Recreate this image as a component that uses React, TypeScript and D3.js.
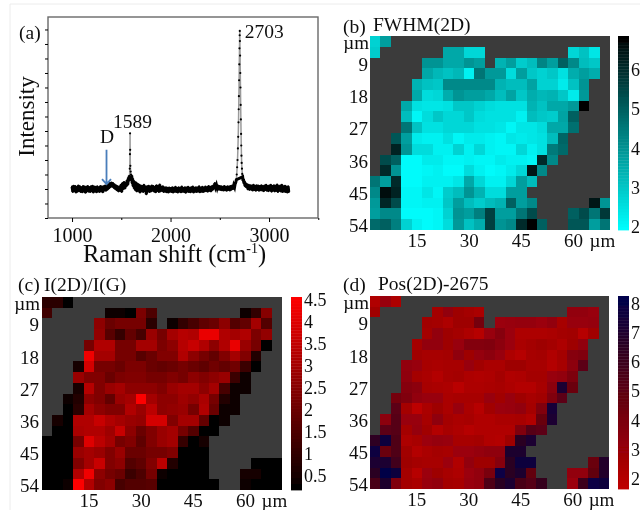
import React, { useEffect, useRef } from 'react';
import * as d3 from 'd3';

const _ = null;

// spectrum, panel (a): baseline is 0, one y unit is one labelled tick step
const ramanShift = [
  1000,1008,1016,1024,1032,1040,1048,1056,1064,1072,1080,1088,1096,1104,1112,1120,1128,1136,1144,1152,
  1160,1168,1176,1184,1192,1200,1208,1216,1224,1232,1240,1248,1256,1264,1272,1280,1288,1296,1304,1312,
  1320,1328,1336,1344,1352,1360,1368,1376,1384,1392,1400,1408,1416,1424,1432,1440,1448,1456,1464,1472,
  1480,1488,1496,1504,1512,1520,1528,1536,1544,1552,1560,1566,1572,1577,1581,1584,1586,1588,1589,1590,
  1592,1595,1598,1602,1606,1610,1615,1620,1626,1632,1638,1644,1650,1658,1666,1674,1682,1690,1698,1706,
  1714,1722,1730,1738,1746,1754,1762,1770,1778,1786,1794,1802,1810,1818,1826,1834,1842,1850,1858,1866,
  1874,1882,1890,1898,1906,1914,1922,1930,1938,1946,1954,1962,1970,1978,1986,1994,2002,2010,2018,2026,
  2034,2042,2050,2058,2066,2074,2082,2090,2098,2106,2114,2122,2130,2138,2146,2154,2162,2170,2178,2186,
  2194,2202,2210,2218,2226,2234,2242,2250,2258,2266,2274,2282,2290,2298,2306,2314,2322,2330,2338,2346,
  2354,2362,2370,2378,2386,2394,2402,2410,2418,2426,2434,2442,2450,2458,2466,2474,2482,2490,2498,2506,
  2514,2522,2530,2538,2546,2554,2562,2570,2578,2586,2594,2602,2610,2618,2626,2634,2642,2650,2656,2662,
  2668,2672,2676,2680,2684,2687,2690,2692,2694,2696,2698,2700,2702,2703,2704,2706,2708,2710,2712,2714,
  2716,2718,2720,2722,2725,2728,2732,2736,2740,2745,2750,2756,2762,2770,2778,2786,2794,2802,2810,2818,
  2826,2834,2842,2850,2858,2866,2874,2882,2890,2898,2906,2914,2922,2930,2938,2946,2954,2962,2970,2978,
  2986,2994,3002,3010,3018,3026,3034,3042,3050,3058,3066,3074,3082,3090,3098,3106,3114,3122,3130,3138,
  3146,3154,3162,3170,3178,3186,3194,3200,
];
const intensity = [
  .08,-.1,.11,-.06,.1,-.12,.06,-.09,.12,-.07,.09,-.1,.05,-.11,.1,-.06,.08,-.13,.07,-.08,
  .1,-.09,.06,-.1,.09,-.07,.11,-.12,.08,-.06,.07,-.11,.09,-.08,.05,-.1,.1,-.07,.08,-.11,
  .09,-.05,.12,-.06,.13,-.02,.15,.03,.2,.07,.22,.1,.2,.04,.15,.0,.12,-.04,.09,-.08,
  .07,-.06,.14,-.1,.2,.0,.24,.02,.18,.1,.3,.15,.38,.28,.45,.42,.7,1.2,1.92,1.35,
  .8,.6,.5,.34,.46,.2,.36,.1,.28,.02,.24,-.04,.22,-.08,.18,-.06,.14,-.12,.12,-.07,
  .1,-.1,.14,-.06,.08,-.18,.09,-.08,.11,-.1,.05,-.08,.12,-.05,.1,-.09,.06,-.11,.13,-.05,
  .08,-.1,.15,-.08,.07,-.06,.09,-.1,.05,-.09,.06,-.11,.04,-.12,.05,-.09,.03,-.1,.06,-.12,
  .04,-.09,.07,-.1,.03,-.12,.06,-.08,.04,-.11,.08,-.09,.03,-.1,.06,-.13,.05,-.08,.07,-.1,
  .04,-.11,.06,-.08,.08,-.12,.04,-.09,.06,-.1,.05,-.08,.09,-.11,.03,-.09,.07,-.1,.05,-.08,
  .08,-.07,.06,-.09,.1,-.06,.07,-.08,.09,-.03,.12,.02,.2,.06,.14,.03,.12,-.02,.1,-.03,
  .09,-.04,.07,-.05,.1,-.04,.06,-.06,.09,-.03,.08,-.05,.1,-.02,.12,.0,.13,.06,.18,.22,
  .32,.5,.75,1.0,1.4,1.8,2.3,2.75,3.2,3.75,4.3,4.85,5.3,5.45,5.1,4.6,4.0,3.5,2.9,2.4,
  1.9,1.5,1.15,.9,.7,.52,.42,.28,.34,.2,.26,.1,.2,.06,.16,-.01,.14,-.03,.13,-.02,
  .12,-.05,.14,-.03,.11,-.06,.13,-.02,.12,-.06,.1,-.04,.13,-.05,.09,-.07,.12,-.03,.14,-.06,
  .1,-.07,.12,-.04,.14,-.09,.1,-.05,.13,-.08,.11,-.06,.15,-.1,.09,-.05,.12,-.09,.14,-.1,
  .08,-.09,.11,-.1,.07,-.12,.09,-.1,
];
const spectrumXTicks = [1000, 2000, 3000];
const spectrumXMinor = [1500, 2500, 3500];
const spectrumYTicks = [-1, -0.5, 0, 0.5, 1, 1.5, 2, 2.5, 3, 3.5, 4, 4.5, 5, 5.5];

// maps are 23 columns by 18 rows, one cell every 3 um, null is no data
const fwhmRows = [
  [2.8,3.8],
  [2.9,_,_,_,_,_,_,3.6,3.6,2.7,2.7,_,_,_,_,_,_,_,_,2.7,3.1,2.4],
  [_,_,_,_,_,4.0,4.0,3.6,3.6,4.0,3.8,_,3.4,3.8,2.9,3.2,4.3,3.8,5.0,4.2,3.2,3.0],
  [_,_,_,_,_,3.6,3.3,3.1,3.3,2.2,4.6,3.9,3.9,2.6,3.8,3.0,2.8,3.0,2.5,3.5,3.8,3.5],
  [_,_,_,_,3.4,3.1,3.0,4.2,4.2,4.2,4.2,4.2,3.4,3.2,3.2,3.7,2.8,2.8,2.3,3.1,4.0],
  [_,_,_,_,3.6,2.6,2.7,3.5,4.0,3.8,3.8,3.6,3.2,3.7,3.0,3.5,3.3,3.4,3.0,2.3,3.9],
  [_,_,_,3.6,2.5,2.4,2.4,2.5,3.0,3.0,2.8,2.6,2.5,2.5,2.5,3.4,3.1,3.6,3.6,3.9,6.8],
  [_,_,_,3.2,2.1,2.6,3.0,2.7,2.7,3.0,2.6,2.5,2.5,2.5,2.2,3.2,3.0,2.9,3.7,5.0],
  [_,_,_,4.6,3.1,2.5,2.5,2.7,2.7,2.7,2.5,2.5,2.4,2.1,2.4,2.4,2.6,3.6,3.6,4.7],
  [_,_,5.2,3.8,2.3,2.2,2.2,2.5,2.1,2.3,2.3,2.2,2.1,2.4,2.3,2.4,2.5,3.2,4.9],
  [_,_,6.2,4.0,2.6,2.6,2.2,2.2,2.8,2.2,2.7,2.2,2.1,2.1,2.7,2.2,2.5,4.5,4.8],
  [_,5.4,5.0,2.0,2.0,2.3,2.3,2.1,2.1,2.2,2.1,2.1,2.3,2.2,2.2,2.1,6.0,4.2],
  [_,6.0,4.0,2.0,2.0,2.1,2.2,2.0,2.0,2.6,2.2,2.0,2.1,2.3,2.7,6.4,4.2],
  [4.6,3.8,6.0,2.0,2.0,2.2,2.2,2.2,2.4,3.6,2.7,2.2,2.2,2.7,3.8,3.2],
  [4.2,6.6,6.2,2.1,2.1,2.4,2.1,2.9,3.2,4.0,3.4,2.6,2.6,3.8,3.8],
  [3.9,6.1,5.4,2.1,2.1,2.2,2.2,3.0,3.8,3.2,2.9,3.2,3.4,5.0,3.8,4.2,_,_,_,_,_,6.4,4.0],
  [3.8,4.2,4.2,2.0,2.0,2.0,2.1,2.8,4.0,3.8,4.4,5.6,3.8,3.8,4.6,5.4,_,_,_,5.0,5.4,4.6,5.8],
  [4.8,5.0,4.4,2.8,2.2,2.0,2.1,2.6,3.9,3.1,3.5,5.6,4.0,4.2,6.0,6.9,5.0,_,_,5.2,5.2,3.8,4.6],
];
const ratioRows = [
  [.9,.9,.2],
  [1.3,_,_,_,_,_,.3,.4,.2,2.3,1.5,_,_,_,_,_,_,_,_,.3,1.0,2.5],
  [_,_,_,_,_,2.6,2.0,2.2,2.2,2.2,.9,_,.3,1.0,1.4,1.8,2.0,2.6,1.6,1.9,3.0,1.6],
  [_,_,_,_,_,2.7,1.7,1.1,1.9,1.4,2.8,2.2,3.0,3.3,3.2,4.2,4.2,3.2,3.0,3.2,2.3,2.7],
  [_,_,_,_,2.2,3.2,3.2,2.2,2.2,3.0,3.0,2.3,2.6,3.3,3.6,3.2,2.6,3.2,4.2,2.8,2.2,.2],
  [_,_,_,_,4.3,3.0,3.0,2.2,2.2,1.7,2.0,2.4,2.4,3.2,2.6,2.2,1.9,2.4,3.0,2.4,.8],
  [_,_,_,.6,3.8,2.2,2.2,2.0,2.3,2.3,2.0,1.9,2.0,2.2,2.0,1.8,2.1,1.9,2.1,1.2,.2],
  [_,_,_,2.8,2.4,2.4,2.0,2.3,2.4,2.4,2.2,2.2,2.4,2.2,2.6,2.4,2.6,2.8,1.2,.3],
  [_,_,_,.5,3.3,2.4,2.8,3.0,2.6,2.6,2.6,2.4,2.8,3.0,3.0,2.6,3.0,1.4,.3,.3],
  [_,_,.3,.8,2.6,2.4,1.9,2.8,3.0,4.5,3.0,2.6,2.6,2.9,2.7,3.1,2.2,.8,.3],
  [_,_,.2,.9,3.0,2.6,2.4,2.4,3.2,2.8,3.4,2.6,2.7,2.8,2.2,3.2,2.0,.3,.3],
  [_,.5,.2,3.2,3.2,3.6,3.2,3.0,2.8,2.7,3.8,3.8,2.4,3.0,3.0,1.9,.2,.3],
  [_,.2,.2,3.1,3.2,3.2,2.9,3.6,2.6,2.0,2.4,2.8,3.0,2.2,1.6,.2,.2],
  [.1,.1,.1,2.2,4.0,3.4,3.0,2.2,2.4,1.8,2.4,2.8,3.0,1.1,.2,.5],
  [.1,.1,.1,2.8,3.0,2.8,2.4,2.8,2.0,2.0,2.2,2.2,2.4,.2,.1,.1],
  [.1,.1,.1,2.4,3.0,3.6,2.4,2.6,1.6,1.8,2.4,3.4,.8,.1,.1,.1,_,_,_,_,.1,.1,.1],
  [.1,.1,.1,3.2,4.3,2.6,2.2,2.0,1.2,1.5,2.2,.4,.1,.1,.1,.1,_,_,_,.5,.5,.2,.1],
  [.1,.1,.4,4.5,3.2,2.4,2.6,1.4,1.6,1.6,1.7,.2,.1,.1,.1,.1,.1,_,_,.4,.2,.1,.1],
];
const posRows = [
  [2.2,3.0,2.3],
  [2.7,_,_,_,_,_,2.6,3.2,2.8,2.6,2.4,_,_,_,_,_,_,_,_,3.2,3.2,3.0],
  [_,_,_,_,_,2.7,2.6,2.3,2.8,2.8,4.2,_,2.9,3.0,3.1,3.1,2.9,3.2,2.5,3.0,3.0,3.1],
  [_,_,_,_,_,2.6,3.2,2.8,2.6,2.3,2.0,3.0,3.6,2.9,2.3,2.3,2.3,2.4,2.6,2.7,2.0,2.7],
  [_,_,_,_,2.6,3.2,3.2,2.8,3.0,3.7,3.7,3.8,3.4,2.9,2.4,2.6,2.8,2.6,2.3,2.8,3.2],
  [_,_,_,_,2.7,2.5,2.5,2.6,3.3,2.8,3.1,3.4,3.0,2.3,2.0,2.5,2.6,2.2,2.6,3.6,3.8],
  [_,_,_,3.2,3.0,2.5,2.4,2.5,2.5,3.0,2.7,2.4,2.4,2.8,2.8,2.5,2.5,2.1,2.5,3.4,5.0],
  [_,_,_,3.3,2.6,2.4,2.1,2.5,2.6,2.3,2.2,2.3,2.6,2.2,2.3,2.6,2.6,3.0,3.2,3.9],
  [_,_,_,3.6,3.4,2.5,2.4,2.3,1.9,2.3,2.3,2.4,2.5,2.3,2.1,2.1,2.5,3.4,7.2,4.5],
  [_,_,4.2,3.8,3.2,3.0,3.0,2.4,2.5,2.5,2.5,3.0,2.7,3.0,2.8,2.5,2.7,3.8,5.0],
  [_,_,5.0,2.6,1.8,2.4,2.8,2.4,3.0,2.4,2.0,2.7,2.9,3.0,3.2,2.6,3.8,7.4],
  [_,3.4,5.2,3.0,3.0,2.5,3.3,2.6,2.4,2.5,2.2,2.2,2.4,2.4,2.5,2.2,4.6,7.2],
  [_,5.0,5.2,2.6,3.1,2.7,2.1,2.5,2.3,2.0,2.2,2.2,2.2,2.2,3.8,5.2,5.0],
  [6.4,7.6,5.4,2.3,2.5,2.9,3.1,3.0,2.5,2.5,2.6,2.2,2.1,2.8,6.6,7.2],
  [7.8,4.5,5.4,2.7,2.1,2.4,2.6,2.5,2.9,2.9,3.1,3.3,3.3,7.0,7.0],
  [7.2,7.2,5.8,2.8,2.6,2.5,2.5,2.9,2.2,3.2,2.8,2.8,3.6,6.5,7.6,7.6,_,_,_,_,_,4.5,6.8],
  [6.5,8.0,7.6,2.6,2.0,2.9,2.8,2.5,2.3,2.9,3.2,4.0,7.9,6.6,7.0,4.8,_,_,_,3.2,3.2,4.8,6.8],
  [5.6,7.0,3.8,2.6,2.4,3.0,3.2,2.6,2.5,3.0,3.2,5.4,6.5,7.2,5.6,5.2,6.2,_,_,2.9,6.0,7.9,7.6],
];

const xTicks = [15, 30, 45, 60];
const yTicks = [9, 18, 27, 36, 45, 54];
const fwhmTicks = [2, 3, 4, 5, 6];
const ratioTicks = [0.5, 1, 1.5, 2, 2.5, 3, 3.5, 4, 4.5];
const posTicks = [2, 3, 4, 5, 6, 7, 8];

const serif = '"Liberation Serif", serif';
const noData = '#3b3b3b';

function drawSpectrum(svg: any) {
  const margin = { left: 48, top: 17, right: 318, bottom: 218 };
  const x = d3.scaleLinear().domain([756, 3497]).range([margin.left, margin.right]);
  const y = d3.scaleLinear().domain([-1, 5.93]).range([margin.bottom, margin.top]);
  const g = svg.append('g');

  g.append('rect')
    .attr('x', margin.left).attr('y', margin.top)
    .attr('width', margin.right - margin.left).attr('height', margin.bottom - margin.top)
    .attr('fill', 'none').attr('stroke', '#6a6a6a').attr('stroke-width', 1.4);

  // x axis, labels and long ticks
  const xAxis = g.append('g').attr('transform', `translate(0,${margin.bottom})`)
    .call(d3.axisBottom(x).tickValues(spectrumXTicks).tickSize(4).tickPadding(6).tickFormat(d3.format('d') as any));
  xAxis.selectAll('text').attr('font-size', 20).attr('font-family', serif).attr('fill', '#111');
  xAxis.select('.domain').remove();
  const xMinor = g.append('g').attr('transform', `translate(0,${margin.bottom})`)
    .call(d3.axisBottom(x).tickValues(spectrumXMinor).tickSize(2).tickFormat(() => ''));
  xMinor.select('.domain').remove();

  const yAxis = g.append('g').attr('transform', `translate(${margin.left},0)`)
    .call(d3.axisLeft(y).tickValues(spectrumYTicks).tickSize(3).tickFormat(() => ''));
  yAxis.select('.domain').remove();

  const pts = ramanShift.map((r, i) => [r, intensity[i]]);
  g.append('path')
    .attr('d', d3.line().x(d => x(d[0])).y(d => y(d[1]))(pts as any))
    .attr('fill', 'none').attr('stroke', '#9a9a9a').attr('stroke-width', 1.5);
  g.append('path')
    .attr('d', d3.line().x(d => x(d[0])).y(d => y(d[1]))(pts.filter(d => Math.abs(d[1]) < 0.5) as any))
    .attr('fill', 'none').attr('stroke', '#000').attr('stroke-width', 3);
  g.append('g').selectAll('circle').data(pts).join('circle')
    .attr('cx', (d: any) => x(d[0])).attr('cy', (d: any) => y(d[1]))
    .attr('r', 1.1).attr('fill', '#000');

  const label = (tx: number, ty: number, s: string, size = 19.5) =>
    g.append('text').attr('x', tx).attr('y', ty).attr('font-size', size)
      .attr('font-family', serif).attr('fill', '#111').text(s);

  label(19, 39, '(a)');
  label(x(2703) + 5, 38, '2703');
  label(x(1589) - 17, 128, '1589');
  label(100, 143, 'D');

  g.append('text')
    .attr('transform', `translate(34,${(margin.top + margin.bottom) / 2 - 1}) rotate(-90)`)
    .attr('text-anchor', 'middle').attr('font-size', 23).attr('font-family', serif).attr('fill', '#111')
    .text('Intensity');

  const xl = g.append('text').attr('x', 83).attr('y', 262)
    .attr('font-size', 24.5).attr('font-family', serif).attr('fill', '#111');
  xl.append('tspan').text('Raman shift (cm');
  xl.append('tspan').attr('font-size', 14).attr('dy', -9).text('-1');
  xl.append('tspan').attr('dy', 9).text(')');

  // arrow at the D band
  const ax = x(1350);
  g.append('path')
    .attr('d', `M${ax},${y(1.35)}V${y(0.17)}M${ax - 4.5},${y(0.34)}L${ax},${y(0.17)}L${ax + 4.5},${y(0.34)}`)
    .attr('fill', 'none').attr('stroke', '#4a7ebb').attr('stroke-width', 1.8);
}

function drawMap(svg: any, o: any) {
  const cols = d3.range(3, 72, 3);
  const rows = d3.range(3, 57, 3);
  const x = d3.scaleBand<number>().domain(cols).range([o.left, o.left + o.width]);
  const y = d3.scaleBand<number>().domain(rows).range([o.top, o.top + o.height]);
  const g = svg.append('g');

  g.append('rect')
    .attr('x', o.left).attr('y', o.top).attr('width', o.width).attr('height', o.height)
    .attr('fill', noData);

  o.rows.forEach((row: any[], r: number) => {
    g.append('g').attr('shape-rendering', 'crispEdges')
      .selectAll('rect').data(row.map((v, c) => ({ v, c })).filter(d => d.v !== null)).join('rect')
      .attr('x', (d: any) => x(cols[d.c]))
      .attr('y', y(rows[r]))
      .attr('width', x.bandwidth())
      .attr('height', y.bandwidth())
      .attr('fill', (d: any) => o.color(d.v));
  });

  const bottom = g.append('g').attr('transform', `translate(0,${o.top + o.height})`)
    .call(d3.axisBottom(x).tickValues(xTicks).tickSize(0).tickPadding(3));
  bottom.select('.domain').remove();
  bottom.selectAll('text').attr('font-size', 19).attr('font-family', serif).attr('fill', '#111');

  const left = g.append('g').attr('transform', `translate(${o.left},0)`)
    .call(d3.axisLeft(y).tickValues(yTicks).tickSize(0).tickPadding(o.yPad));
  left.select('.domain').remove();
  left.selectAll('text').attr('font-size', 19).attr('font-family', serif).attr('fill', '#111').attr('dy', '0.4em');

  const text = (tx: number, ty: number, s: string, size: number, anchor = 'start') =>
    g.append('text').attr('x', tx).attr('y', ty).attr('font-size', size).attr('text-anchor', anchor)
      .attr('font-family', serif).attr('fill', '#111').text(s);

  text(o.left - o.yPad + 1, o.top + 13, '\u00b5m', 19, 'end');
  text(x(60)! + x.bandwidth() / 2 + 16, o.top + o.height + 16.5, '\u00b5m', 19);
  text(o.panelX, o.top - o.panelY, o.panel, 19.5);
  text(o.titleX, o.top - o.titleY, o.title, 19.5);

  // colour bar, stepped like the original
  const barX = o.left + o.width + o.barGap;
  const barW = 11;
  const bar = d3.scaleLinear().domain(o.barDomain).range([o.top + o.height, o.top]);
  const steps = d3.range(64).map(i => o.barDomain[0] + ((i + 0.5) / 64) * (o.barDomain[1] - o.barDomain[0]));
  const sh = o.height / 64;
  g.append('g').selectAll('rect').data(steps).join('rect')
    .attr('x', barX).attr('width', barW)
    .attr('y', (d: number) => bar(d) - sh / 2).attr('height', sh + 0.4)
    .attr('fill', (d: number) => o.color(d));
  const right = g.append('g').attr('transform', `translate(${barX + barW},0)`)
    .call(d3.axisRight(bar).tickValues(o.barTicks).tickSize(0).tickPadding(2).tickFormat((d: any) => String(d)));
  right.select('.domain').remove();
  right.selectAll('text').attr('font-size', 18).attr('font-family', serif).attr('fill', '#111');
}

export default function App() {
  const ref = useRef<SVGSVGElement>(null);

  useEffect(() => {
    const svg = d3.select(ref.current);
    svg.selectAll('*').remove();

    svg.append('defs').append('filter').attr('id', 'soft')
      .append('feGaussianBlur').attr('stdDeviation', 0.6);
    const root = svg.append('g').attr('filter', 'url(#soft)');

    root.append('path').attr('d', 'M10,510V4H640').attr('fill', 'none').attr('stroke', '#ececec');

    drawSpectrum(root);

    drawMap(root, {
      rows: fwhmRows, left: 370, top: 36, width: 240, height: 194, barGap: 8, yPad: 2,
      panel: '(b)', panelX: 343, panelY: 3, title: 'FWHM(2D)', titleX: 373, titleY: 5,
      color: d3.scaleLinear<string>().domain([1.92, 6.86]).range(['#00ffff', '#000000']).clamp(true),
      barDomain: [1.92, 6.86], barTicks: fwhmTicks,
    });
    drawMap(root, {
      rows: ratioRows, left: 42, top: 297, width: 240, height: 193, barGap: 9, yPad: 3,
      panel: '(c)', panelX: 18, panelY: 6, title: 'I(2D)/I(G)', titleX: 44, titleY: 6,
      color: d3.scaleLinear<string>().domain([0.18, 4.56]).range(['#000000', '#ff0000']).clamp(true),
      barDomain: [0.18, 4.56], barTicks: ratioTicks,
    });
    drawMap(root, {
      rows: posRows, left: 370, top: 296, width: 239, height: 193, barGap: 9, yPad: 2,
      panel: '(d)', panelX: 343, panelY: 5, title: 'Pos(2D)-2675', titleX: 378, titleY: 6,
      color: d3.scaleLinear<string>().domain([1.66, 5, 6.5, 8.25])
        .range(['#c00000', '#5c0012', '#2c0022', '#00004c']).clamp(true),
      barDomain: [1.66, 8.25], barTicks: posTicks,
    });
  }, []);

  return (
    <svg
      ref={ref}
      width={640}
      height={510}
      style={{ position: 'absolute', left: 0, top: 0, background: '#fff' }}
    />
  );
}
